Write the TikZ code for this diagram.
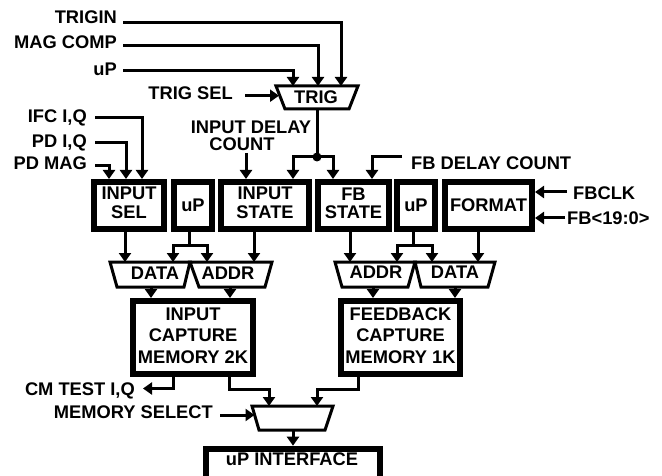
\documentclass[tikz,border=0pt]{standalone}
\usepackage{fontspec}
\setmainfont{Liberation Sans}
\usetikzlibrary{arrows.meta}
\newcommand{\bfnt}{\fontsize{18.3}{18.5}\selectfont\bfseries}
\newcommand{\bfntm}{\fontsize{18.3}{21.5}\selectfont\bfseries}
\newcommand{\stk}[1]{\begin{tabular}{@{}c@{}}#1\end{tabular}}
\begin{document}
\begin{tikzpicture}[x=1pt,y=-1pt,
  lbl/.style={font=\bfnt, inner sep=0pt, text height=13pt, text depth=0pt},
  blk/.style={draw, line width=6pt, inner sep=0pt, font=\bfnt},
  trp/.style={draw, line width=3pt, line join=miter},
  tlbl/.style={font=\bfnt, inner sep=0pt, text height=13pt, text depth=0pt},
  con/.style={line width=3pt},
  arr/.style={line width=3pt, -{Triangle[width=12pt,length=9pt]}},
]
\useasboundingbox (0,0) rectangle (662,476);
\clip (0,0) rectangle (662,476);

% ---------- labels ----------
\node[lbl, anchor=east] (trigin) at (117,16.7) {TRIGIN};
\node[lbl, anchor=east] (magcomp) at (117,41.7) {MAG COMP};
\node[lbl, anchor=east] (upin) at (117,69) {uP};
\node[lbl, anchor=east] (trigsel) at (233,93) {TRIG SEL};
\node[lbl, anchor=east] (ifciq) at (87,116.5) {IFC I,Q};
\node[lbl, anchor=east] (pdiq) at (87,141) {PD I,Q};
\node[lbl, anchor=east] (pdmag) at (87,163.5) {PD MAG};
\node[font=\fontsize{18.3}{16.5}\selectfont\bfseries, inner sep=0pt, align=center] (idc) at (251,136) {INPUT DELAY\\COUNT\hspace*{18pt}};
\node[lbl, anchor=west] (fbdc) at (411,163.5) {FB DELAY COUNT};
\node[lbl, anchor=west] (fbclk) at (573,193) {FBCLK};
\node[lbl, anchor=west] (fbbus) at (567,218) {FB<19:0>};
\node[lbl, anchor=east] (cmtest) at (135,388.5) {CM TEST I,Q};
\node[lbl, anchor=east] (memsel) at (213,411.5) {MEMORY SELECT};

% ---------- boxes ----------
\node[blk, minimum width=70pt, minimum height=47pt] (insel) at (129,205.5) {\stk{INPUT\\SEL}};
\node[blk, minimum width=38pt, minimum height=47pt, text height=13pt, text depth=0pt] (upa) at (193,205.5) {uP};
\node[blk, minimum width=88pt, minimum height=47pt] (instate) at (265,205.5) {\stk{INPUT\\STATE}};
\node[blk, minimum width=71pt, minimum height=47pt, font=\fontsize{18.3}{17}\selectfont\bfseries] (fbstate) at (353.5,205.5) {\stk{FB\\STATE}};
\node[blk, minimum width=38pt, minimum height=47pt, text height=13pt, text depth=0pt] (upb) at (416,205.5) {uP};
\node[blk, minimum width=87pt, minimum height=47pt, text height=13pt, text depth=0pt] (format) at (488.5,205.5) {\raisebox{1pt}{FORMAT}};
\node[blk, minimum width=120pt, minimum height=73pt, font=\bfntm] (incap) at (193,337.5) {\stk{INPUT\\CAPTURE\\MEMORY 2K}};
\node[blk, minimum width=119pt, minimum height=73pt, font=\bfntm] (fbcap) at (400.5,337.5) {\stk{FEEDBACK\\CAPTURE\\MEMORY 1K}};
\node[blk, minimum width=174.5pt, minimum height=50pt, anchor=north] (upif) at (293,445.7) {};
\node[tlbl] (upiftxt) at (292,459) {uP INTERFACE};

% ---------- trapezoids ----------
\draw[trp] (276,86) -- (358,86) -- (349,109) -- (285,109) -- cycle;
\node[tlbl] (trig) at (316,97) {TRIG};
\draw[trp] (110,262) -- (190,262) -- (184,287) -- (117,287) -- cycle;
\node[tlbl] (data1) at (155,273) {DATA};
\draw[trp] (190,262) -- (272,262) -- (265,287) -- (199,287) -- cycle;
\node[tlbl] (addr1) at (228,273) {ADDR};
\draw[trp] (335,262) -- (415,262) -- (408,287) -- (342,287) -- cycle;
\node[tlbl] (addr2) at (376,272) {ADDR};
\draw[trp] (415,262) -- (495,262) -- (488,287) -- (421,287) -- cycle;
\node[tlbl] (data2) at (455,272) {DATA};
\draw[trp] (252,406) -- (333,406) -- (325,430) -- (259,430) -- cycle;

% connection points on trapezoids
\coordinate (trigA) at (293,86);
\coordinate (trigB) at (318,86);
\coordinate (trigC) at (341,86);
\coordinate (trigL) at (279,95.7);
\coordinate (trigOut) at (317,109);
\coordinate (junc) at (317,157);
\coordinate (d1A) at (125,262);
\coordinate (d1B) at (173,262);
\coordinate (a1A) at (207,262);
\coordinate (a1B) at (254,262);
\coordinate (a2A) at (350,262);
\coordinate (a2B) at (397,262);
\coordinate (d2A) at (432,262);
\coordinate (d2B) at (478,262);
\coordinate (d1Out) at (151,287);
\coordinate (a1Out) at (230,287);
\coordinate (a2Out) at (373,287);
\coordinate (d2Out) at (455,287);
\coordinate (muxA) at (269,406);
\coordinate (muxB) at (317,406);
\coordinate (muxL) at (254.5,415);
\coordinate (muxOut) at (293,430);
\coordinate (upaSplit) at (189,246);
\coordinate (upbSplit) at (413,246);

% ---------- connectors ----------
\draw[arr] ([shift={(6,6)}]trigin.east) -| (trigC);
\draw[arr] ([shift={(6,4)}]magcomp.east) -| (trigB);
\draw[arr] ([shift={(6,1.7)}]upin.east) -| (trigA);
\draw[arr] ([shift={(12,2.7)}]trigsel.east) -- (trigL);

\draw[con] (trigOut) -- (junc);
\fill (junc) circle (4.5pt);
\draw[arr] (junc) -| ([xshift=28]instate.north);
\draw[arr] (junc) -| ([xshift=-20.5]fbstate.north);
\draw[arr] ([xshift=-5,yshift=-2]idc.south) -- ([xshift=-19]instate.north);
\draw[arr] ([shift={(-9,-6.5)}]fbdc.west) -| ([xshift=18.5]fbstate.north);

\draw[arr] ([shift={(8,0.8)}]ifciq.east) -| ([xshift=13]insel.north);
\draw[arr] ([shift={(8,1.3)}]pdiq.east) -| ([xshift=-3]insel.north);
\draw[arr] ([shift={(8,2.2)}]pdmag.east) -| ([xshift=-20]insel.north);

\draw[arr] ([shift={(-6,-1)}]fbclk.west) -- ([yshift=13.5]format.east);
\draw[arr] ([shift={(-2,0)}]fbbus.west) -- ([yshift=-12.5]format.east);

\draw[arr] ([xshift=-4]insel.south) -- (d1A);
\draw[con] ([xshift=-4]upa.south) -- (upaSplit);
\draw[arr] (upaSplit) -| (d1B);
\draw[arr] (upaSplit) -| (a1A);
\draw[arr] ([xshift=-11]instate.south) -- (a1B);
\draw[arr] ([xshift=-3.5]fbstate.south) -- (a2A);
\draw[con] ([xshift=-3]upb.south) -- (upbSplit);
\draw[arr] (upbSplit) -| (a2B);
\draw[arr] (upbSplit) -| (d2A);
\draw[arr] ([xshift=-10.5]format.south) -- (d2B);

\draw[arr] (d1Out) -- (d1Out |- incap.north);
\draw[arr] (a1Out) -- (a1Out |- incap.north);
\draw[arr] (a2Out) -- (a2Out |- fbcap.north);
\draw[arr] (d2Out) -- (d2Out |- fbcap.north);

\draw[arr] ([xshift=-20]incap.south) |- ([xshift=8]cmtest.east);
\draw[arr] ([xshift=36]incap.south) -- ++(0,12) -| (muxA);
\draw[arr] ([xshift=-42.5]fbcap.south) -- ++(0,12) -| (muxB);
\draw[arr] ([shift={(7,3.5)}]memsel.east) -- (muxL);
\draw[arr] (muxOut) -- (muxOut |- upif.north);
\end{tikzpicture}
\end{document}
